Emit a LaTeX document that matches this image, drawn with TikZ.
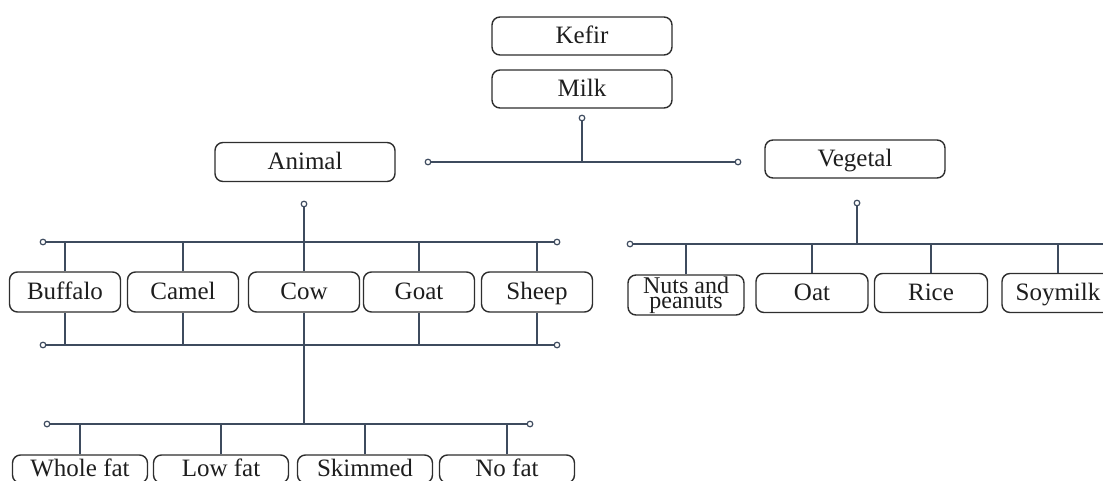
\documentclass[tikz,border=0pt]{standalone}
\usepackage{fontspec}
\setmainfont{Liberation Serif}
\definecolor{busc}{HTML}{3E4B5E}
\definecolor{boxc}{HTML}{2E2E2E}
\definecolor{txtc}{HTML}{1E1E1E}
\begin{document}
\begin{tikzpicture}[x=1pt,y=-1pt,
  box/.style={draw=boxc,line width=1.4pt,rounded corners=8pt,fill=white,inner sep=0pt,
    minimum height=38pt,text=txtc,font=\fontsize{25}{14}\selectfont,align=center,
    text height=18pt,text depth=4pt},
  twoline/.style={text height=,text depth=,font=\fontsize{24}{15.5}\selectfont},
  bus/.style={draw=busc,line width=1.8pt},
  dotc/.style={draw=busc,line width=1.2pt,fill=white}]
\useasboundingbox (0,0) rectangle (1103,480);
\clip (0,0) rectangle (1103,480);
% top
\node[box,minimum width=180pt] (kefir) at (582,36) {Kefir};
\node[box,minimum width=180pt] (milk) at (582,89) {Milk};
\node[box,minimum width=180pt,minimum height=39pt] (animal) at (305,162) {Animal};
\node[box,minimum width=180pt] (vegetal) at (855,159) {Vegetal};
% animal row
\node[box,minimum width=111pt,minimum height=40pt] (buffalo) at (65,292) {Buffalo};
\node[box,minimum width=111pt,minimum height=40pt] (camel) at (183,292) {Camel};
\node[box,minimum width=111pt,minimum height=40pt] (cow) at (304,292) {Cow};
\node[box,minimum width=111pt,minimum height=40pt] (goat) at (419,292) {Goat};
\node[box,minimum width=111pt,minimum height=40pt] (sheep) at (537,292) {Sheep};
% vegetal row
\node[box,twoline,minimum width=116pt,minimum height=40pt] (nuts) at (686,295) {Nuts and\\peanuts};
\node[box,minimum width=112pt,minimum height=39pt] (oat) at (812,293) {Oat};
\node[box,minimum width=113pt,minimum height=39pt] (rice) at (931,293) {Rice};
\node[box,minimum width=112pt,minimum height=39pt] (soy) at (1058,293) {Soymilk};
% fat row
\node[box,minimum width=135pt,minimum height=28pt] (whole) at (80,469) {Whole fat};
\node[box,minimum width=135pt,minimum height=28pt] (low) at (221,469) {Low fat};
\node[box,minimum width=135pt,minimum height=28pt] (skim) at (365,469) {Skimmed};
\node[box,minimum width=135pt,minimum height=28pt] (nofat) at (507,469) {No fat};
% coordinates
\coordinate (milkc) at (582,118);
\coordinate (mL) at (428,162);
\coordinate (mR) at (738,162);
\coordinate (anic) at (304,204);
\coordinate (aTL) at (43,242);
\coordinate (aTR) at (557,242);
\coordinate (aBL) at (43,345);
\coordinate (aBR) at (557,345);
\coordinate (fL) at (47,424);
\coordinate (fR) at (530,424);
\coordinate (vegc) at (857,203);
\coordinate (vL) at (630,244);
\coordinate (vR) at (1115,244);
% connectors
\draw[bus] (milkc) -- (milkc |- mL);
\draw[bus] (mL) -- (mR);
\draw[bus] (anic) -- (cow.north);
\draw[bus] (aTL) -- (aTR);
\foreach \n in {buffalo,camel,goat,sheep} \draw[bus] (\n.north) -- (\n.north |- aTL);
\draw[bus] (aBL) -- (aBR);
\foreach \n in {buffalo,camel,goat,sheep} \draw[bus] (\n.south) -- (\n.south |- aBL);
\draw[bus] (cow.south) -- (cow.south |- fL);
\draw[bus] (fL) -- (fR);
\foreach \n in {whole,low,skim,nofat} \draw[bus] (\n.north) -- (\n.north |- fL);
\draw[bus] (vegc) -- (vegc |- vL);
\draw[bus] (vL) -- (vR);
\foreach \n in {nuts,oat,rice,soy} \draw[bus] (\n.north) -- (\n.north |- vL);
% end circles
\foreach \c in {milkc,mL,mR,anic,aTL,aTR,aBL,aBR,fL,fR,vegc,vL}
  \draw[dotc] (\c) circle (2.8pt);
\end{tikzpicture}
\end{document}
